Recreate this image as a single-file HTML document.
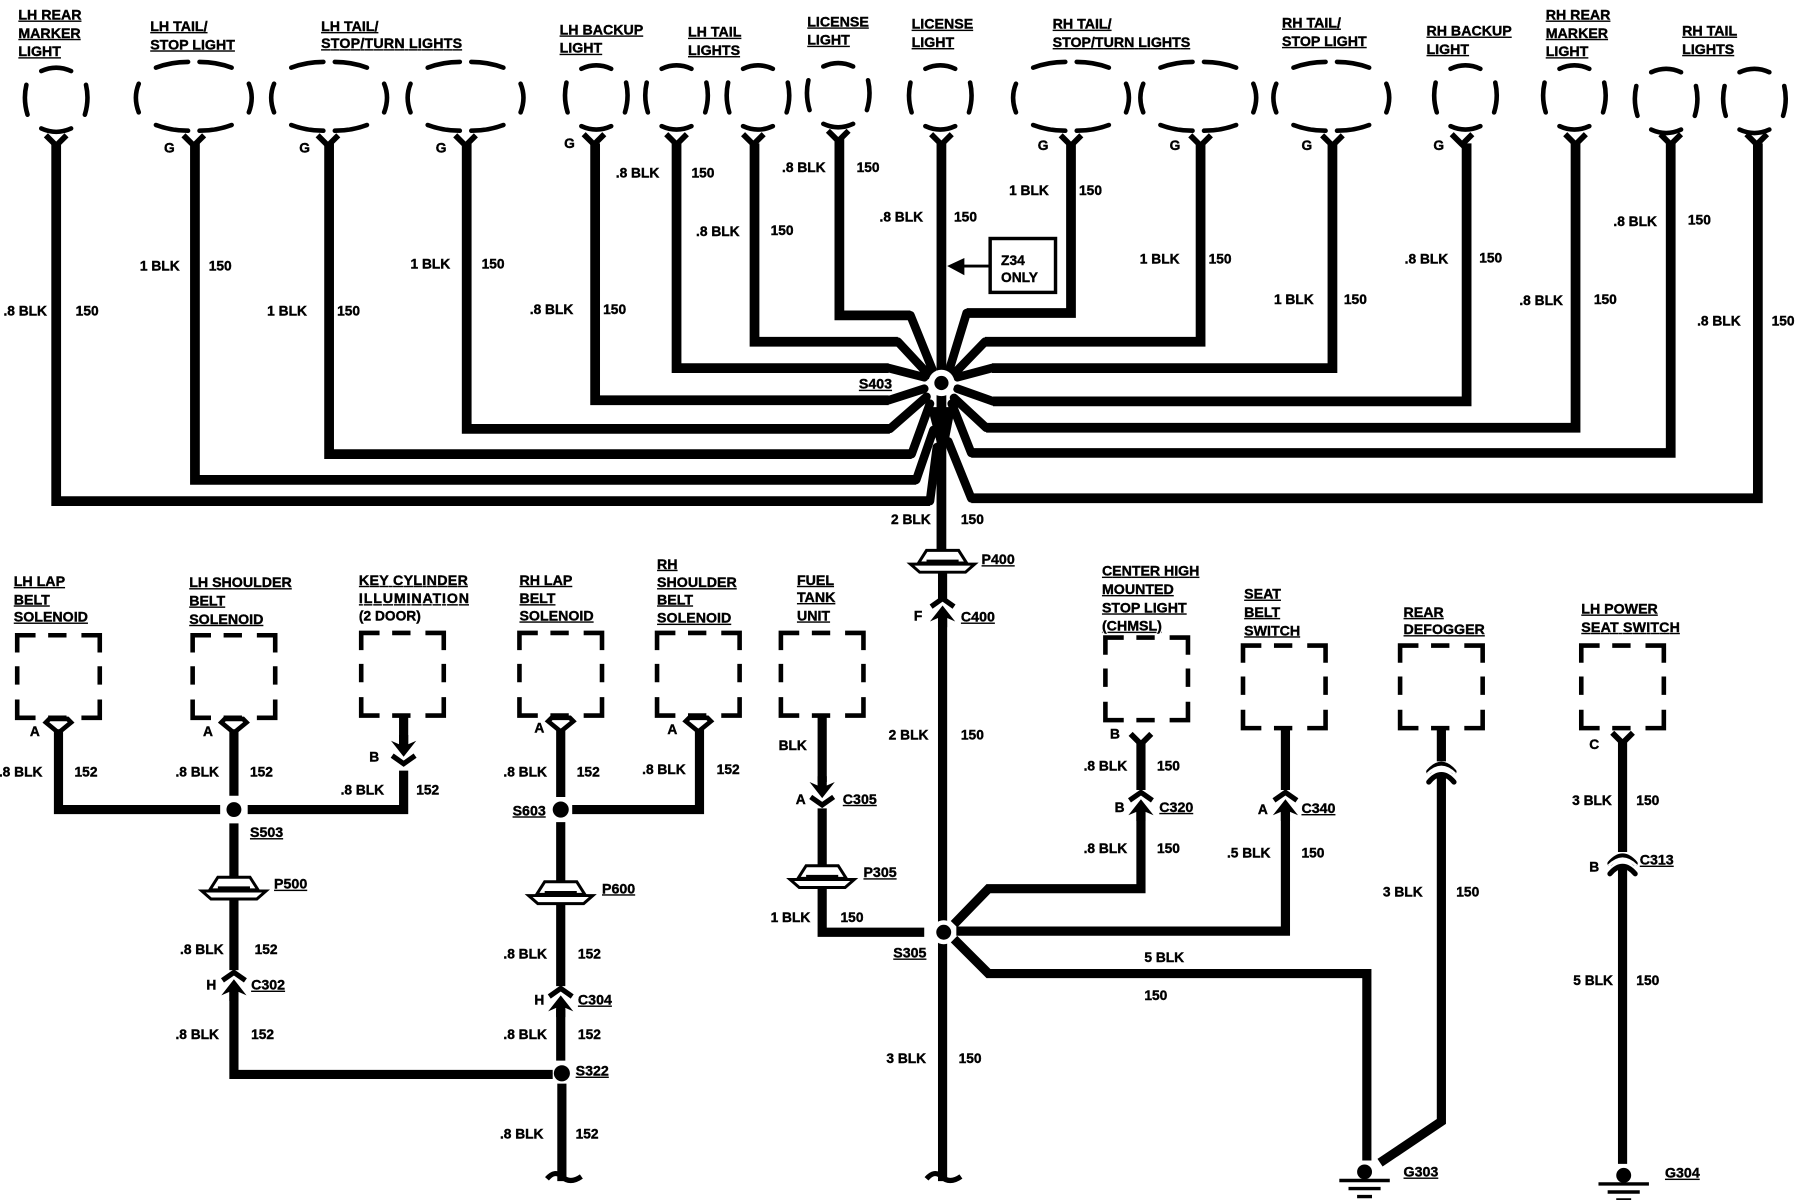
<!DOCTYPE html>
<html><head><meta charset="utf-8"><title>Ground distribution wiring diagram</title>
<style>
html,body{margin:0;padding:0;background:#fff}
svg{display:block}
text{font-family:"Liberation Sans",sans-serif;font-weight:bold;font-size:12px;fill:#000;stroke:#000;stroke-width:.35}
.u text{font-size:12.4px}
.u{text-decoration:underline;text-decoration-thickness:1.5px;text-underline-offset:2px}
.w{fill:none;stroke:#000;stroke-width:8.5;stroke-linejoin:miter}
.sp{fill:none;stroke:#000;stroke-width:7.5;stroke-linecap:round}
.d{fill:none;stroke:#000;stroke-width:4}
</style></head><body>
<svg xmlns="http://www.w3.org/2000/svg" width="1798" height="1200" viewBox="0 0 1568 1046.5">
<defs>
<g id="r" class="d" style="stroke-linecap:round"><path d="M-13,-25Q0,-31 13,-25M-26,-13Q-29,0-25,13M26,-13Q29,0 25,13M-13,25Q0,31 13,25"/></g>
<g id="l" class="d" style="stroke-linecap:round"><path d="M-33,-26Q-20,-31-5,-31M5,-31Q20,-31 33,-26M-33,24Q-20,29-5,29M5,29Q20,29 33,24M-48,-12Q-53,0-48,13M48,-12Q53,0 48,13"/></g>
<path id="s" class="d" d="M2,17V2H18M29,2H45M58,2H74V17M2,29V45M74,29V45M2,58V74H18M58,74H74V58M29,74H45"/>
<path id="y" class="d" style="stroke-width:5" d="M-9,-10L0,-1L9,-10"/>
<path id="t" class="d" d="M-8,-4H8L11,-1L0,8L-11,-1Z"/>
<g id="p"><path fill="#fff" stroke="#000" stroke-width="2.6" d="M-21,0L-14,-11H14L21,0Z"/><path d="M-14,-2H14" stroke="#000" stroke-width="2"/><path fill="#fff" stroke="#000" stroke-width="2.6" d="M-28,1H28L20,8H-20Z"/></g>
<g id="cu"><path class="d" style="stroke-width:4.5" d="M-10,-2L0,-9L10,-2"/><path d="M-11,11L0,-3L11,11L4,8V16H-4V8Z"/></g>
<g id="cd"><path class="d" style="stroke-width:4.5" d="M-10,2L0,9L10,2"/><path d="M-11,-11L0,3L11,-11L4,-8V-16H-4V-8Z"/></g>
<g id="g"><circle r="6.5"/><path d="M-22,7.5H22M-14,14.5H14M-6.5,21.5H6.5" stroke="#000" stroke-width="3"/></g>
<path id="a" class="d" style="stroke-width:4.5;stroke-linecap:round" d="M-11,7Q0,-6 11,7"/>
</defs>

<!-- lamps -->
<use href="#r" x="49" y="87"/><use href="#l" x="169" y="85"/><use href="#l" x="287" y="85"/><use href="#l" x="406" y="85"/>
<use href="#r" x="520" y="85"/><use href="#r" x="590" y="85"/><use href="#r" x="661" y="85"/><use href="#r" x="731" y="83"/>
<use href="#r" x="820" y="85"/><use href="#l" x="934" y="85"/><use href="#l" x="1045" y="85"/><use href="#l" x="1161" y="85"/>
<use href="#r" x="1278" y="85"/><use href="#r" x="1373" y="85"/><use href="#r" x="1453" y="88"/><use href="#r" x="1530" y="88"/>

<!-- forks -->
<use href="#y" x="49" y="128"/><use href="#y" x="169" y="128"/><use href="#y" x="286" y="128"/><use href="#y" x="406" y="128"/>
<use href="#y" x="518" y="127"/><use href="#y" x="590" y="127"/><use href="#y" x="657" y="127"/><use href="#y" x="731" y="124"/>
<use href="#y" x="821" y="127"/><use href="#y" x="934" y="128"/><use href="#y" x="1047" y="128"/><use href="#y" x="1162" y="128"/>
<use href="#y" x="1275" y="127"/><use href="#y" x="1374" y="127"/><use href="#y" x="1457" y="127"/><use href="#y" x="1532" y="127"/>

<!-- S403 harness -->
<g class="w">
<path d="M49,125V437H811"/>
<path d="M170,125V418.5H799"/>
<path d="M287,125V396H795"/>
<path d="M407,125V374H776"/>
<path d="M519,125V349H775"/>
<path d="M590,125V321H775"/>
<path d="M658,125V298H783"/>
<path d="M732,120V275H794"/>
<path d="M934,125V273H843"/>
<path d="M1047,125V298H859"/>
<path d="M1162,125V321H865"/>
<path d="M1279,125V350H866"/>
<path d="M1374,125V373H860"/>
<path d="M1457,125V395H847"/>
<path d="M1533,125V434.5H847"/>
<path d="M821,125V480"/>
</g>
<g class="sp">
<path d="M811,437L817,390M799,418.5L814,375M795,396L811,352M776,374L808,346M775,349L806,339M775,321L806,329M783,298L810,327M794,275L813,322"/>
<path d="M843,273L828,322M859,298L831,327M865,321L835,329M866,350L835,339M860,373L832,347M847,395L830,352M847,434.5L827,385"/>
</g>
<path d="M809,355H833L827,386H817Z"/>
<circle cx="821" cy="334" r="11.5" fill="#fff"/><circle cx="821" cy="334" r="6.2"/>

<!-- Z34 -->
<rect x="863.5" y="208" width="57" height="47" fill="none" stroke="#000" stroke-width="3"/>
<path d="M863,232H838" stroke="#000" stroke-width="2.5"/><path d="M826,232L841,225V240Z"/>

<!-- P400 / main -->
<use href="#p" x="822" y="491"/>
<path class="w" style="stroke-width:8" d="M822,498V522M822,538V1030"/>
<use href="#cu" x="822" y="531"/>
<path class="d" style="stroke-width:4.5" d="M808,1028Q815,1020 821,1026Q828,1033 838,1026"/>

<!-- squares -->
<use href="#s" x="13" y="552"/><use href="#s" x="166" y="552"/><use href="#s" x="313" y="550"/><use href="#s" x="451" y="550"/><use href="#s" x="571" y="550"/><use href="#s" x="679" y="550"/>
<use href="#s" x="962" y="554"/><use href="#s" x="1082" y="561"/><use href="#s" x="1219" y="561"/><use href="#s" x="1377" y="561"/>
<use href="#t" x="51" y="631"/><use href="#t" x="204" y="631"/><use href="#t" x="489" y="630"/><use href="#t" x="609" y="630"/>

<g class="w" style="stroke-width:8">
<path d="M51,636V706H192"/>
<path d="M204,636V694"/>
<path d="M216,706H352V672"/>
<path d="M352,624V650"/>
<path d="M204,718V766"/>
<path d="M204,783V846"/>
<path d="M204,865V937H482"/>
<path d="M489,636V695"/>
<path d="M499,706H610V636"/>
<path d="M489,717V770"/>
<path d="M489,787V860"/>
<path d="M489,880V925"/>
<path d="M490,945V1030"/>
<path d="M717,624V682"/>
<path d="M717,705V760"/>
<path d="M717,772V813H806"/>
<path d="M995,648V689"/>
<path d="M995,708V775H862L832,806"/>
<path d="M1121,634V689"/>
<path d="M1121,708V812H834"/>
<path d="M832,819L862,849H1192V1012"/>
<path d="M1257,634V664"/>
<path d="M1257,675V978L1203.5,1014"/>
<path d="M1415,645V743"/>
<path d="M1415,755V1015"/>
</g>
<path class="d" style="stroke-width:4.5" d="M477,1028Q484,1020 490,1026Q497,1033 507,1026"/>
<circle cx="204" cy="706" r="6.5"/><circle cx="489" cy="706" r="7"/><circle cx="490" cy="936" r="7"/>
<circle cx="823" cy="813" r="10.5" fill="#fff"/><circle cx="823" cy="813" r="6.5"/>
<use href="#y" x="995" y="650"/><use href="#y" x="1415" y="649"/>
<use href="#cd" x="352" y="657"/><use href="#cd" x="717" y="693"/>
<use href="#cu" x="204" y="857"/><use href="#cu" x="489" y="871"/><use href="#cu" x="995" y="700"/><use href="#cu" x="1121" y="700"/>
<use href="#a" x="1257" y="666"/><path d="M1245,675Q1257,663 1269,675" fill="none" stroke="#fff" stroke-width="2.5"/><use href="#a" x="1257" y="675"/>
<use href="#a" x="1415" y="746"/><path d="M1403,755Q1415,743 1427,755" fill="none" stroke="#fff" stroke-width="2.5"/><use href="#a" x="1415" y="755"/>
<use href="#p" x="204" y="776"/><use href="#p" x="489" y="780"/><use href="#p" x="717" y="766"/>
<use href="#g" x="1190" y="1022"/><use href="#g" x="1416" y="1025"/>

<!-- headers -->
<g class="u">
<text x="16" y="17">LH REAR</text><text x="16" y="33">MARKER</text><text x="16" y="49">LIGHT</text>
<text x="131" y="27">LH TAIL/</text><text x="131" y="43">STOP LIGHT</text>
<text x="280" y="27">LH TAIL/</text><text x="280" y="42" textLength="123">STOP/TURN LIGHTS</text>
<text x="488" y="30">LH BACKUP</text><text x="488" y="46">LIGHT</text>
<text x="600" y="32">LH TAIL</text><text x="600" y="48">LIGHTS</text>
<text x="704" y="23">LICENSE</text><text x="704" y="39">LIGHT</text>
<text x="795" y="25">LICENSE</text><text x="795" y="41">LIGHT</text>
<text x="918" y="25">RH TAIL/</text><text x="918" y="41" textLength="120">STOP/TURN LIGHTS</text>
<text x="1118" y="24">RH TAIL/</text><text x="1118" y="40">STOP LIGHT</text>
<text x="1244" y="31">RH BACKUP</text><text x="1244" y="47">LIGHT</text>
<text x="1348" y="17">RH REAR</text><text x="1348" y="33">MARKER</text><text x="1348" y="49">LIGHT</text>
<text x="1467" y="31">RH TAIL</text><text x="1467" y="47">LIGHTS</text>

<text x="12" y="511">LH LAP</text><text x="12" y="527">BELT</text><text x="12" y="542">SOLENOID</text>
<text x="165" y="512">LH SHOULDER</text><text x="165" y="528">BELT</text><text x="165" y="544">SOLENOID</text>
<text x="313" y="510" textLength="95">KEY CYLINDER</text><text x="313" y="526" textLength="96">ILLUMINATION</text>
<text x="453" y="510">RH LAP</text><text x="453" y="526">BELT</text><text x="453" y="541">SOLENOID</text>
<text x="573" y="496">RH</text><text x="573" y="512">SHOULDER</text><text x="573" y="527">BELT</text><text x="573" y="543">SOLENOID</text>
<text x="695" y="510">FUEL</text><text x="695" y="525">TANK</text><text x="695" y="541">UNIT</text>
<text x="961" y="502" textLength="85">CENTER HIGH</text><text x="961" y="518">MOUNTED</text><text x="961" y="534">STOP LIGHT</text><text x="961" y="550">(CHMSL)</text>
<text x="1085" y="522">SEAT</text><text x="1085" y="538">BELT</text><text x="1085" y="554">SWITCH</text>
<text x="1224" y="538">REAR</text><text x="1224" y="553">DEFOGGER</text>
<text x="1379" y="535">LH POWER</text><text x="1379" y="551" textLength="86">SEAT SWITCH</text>

<text x="749" y="339">S403</text><text x="856" y="492">P400</text><text x="838" y="542">C400</text>
<text x="218" y="730">S503</text><text x="239" y="775">P500</text><text x="219" y="863">C302</text>
<text x="447" y="711">S603</text><text x="525" y="779">P600</text><text x="504" y="876">C304</text><text x="502" y="938">S322</text>
<text x="735" y="701">C305</text><text x="753" y="765">P305</text><text x="779" y="835">S305</text>
<text x="1011" y="708">C320</text><text x="1135" y="709">C340</text><text x="1430" y="754">C313</text>
<text x="1224" y="1026">G303</text><text x="1452" y="1027">G304</text>
</g>
<text x="313" y="541">(2 DOOR)</text>

<!-- G / pin letters -->
<text x="143" y="133">G</text><text x="261" y="133">G</text><text x="380" y="133">G</text><text x="492" y="129">G</text>
<text x="905" y="131">G</text><text x="1020" y="131">G</text><text x="1135" y="131">G</text><text x="1250" y="131">G</text>
<text x="26" y="642">A</text><text x="177" y="642">A</text><text x="322" y="664">B</text><text x="466" y="639">A</text><text x="582" y="640">A</text>
<text x="797" y="541">F</text><text x="968" y="644">B</text><text x="972" y="708">B</text><text x="1097" y="710">A</text>
<text x="694" y="701">A</text><text x="180" y="863">H</text><text x="466" y="876">H</text><text x="1386" y="760">B</text><text x="1386" y="653">C</text>

<!-- wire labels top -->
<text x="3" y="275">.8 BLK</text><text x="66" y="275">150</text>
<text x="122" y="236">1 BLK</text><text x="182" y="236">150</text>
<text x="233" y="275">1 BLK</text><text x="294" y="275">150</text>
<text x="358" y="234">1 BLK</text><text x="420" y="234">150</text>
<text x="462" y="274">.8 BLK</text><text x="526" y="274">150</text>
<text x="537" y="155">.8 BLK</text><text x="603" y="155">150</text>
<text x="607" y="206">.8 BLK</text><text x="672" y="205">150</text>
<text x="682" y="150">.8 BLK</text><text x="747" y="150">150</text>
<text x="767" y="193">.8 BLK</text><text x="832" y="193">150</text>
<text x="880" y="170">1 BLK</text><text x="941" y="170">150</text>
<text x="994" y="230">1 BLK</text><text x="1054" y="230">150</text>
<text x="1111" y="265">1 BLK</text><text x="1172" y="265">150</text>
<text x="1225" y="230">.8 BLK</text><text x="1290" y="229">150</text>
<text x="1325" y="266">.8 BLK</text><text x="1390" y="265">150</text>
<text x="1407" y="197">.8 BLK</text><text x="1472" y="196">150</text>
<text x="1480" y="284">.8 BLK</text><text x="1545" y="284">150</text>
<text x="873" y="231">Z34</text><text x="873" y="246">ONLY</text>
<text x="777" y="457">2 BLK</text><text x="838" y="457">150</text>
<text x="775" y="645">2 BLK</text><text x="838" y="645">150</text>

<!-- wire labels bottom -->
<text x="-1" y="677">.8 BLK</text><text x="65" y="677">152</text>
<text x="153" y="677">.8 BLK</text><text x="218" y="677">152</text>
<text x="297" y="693">.8 BLK</text><text x="363" y="693">152</text>
<text x="439" y="677">.8 BLK</text><text x="503" y="677">152</text>
<text x="560" y="675">.8 BLK</text><text x="625" y="675">152</text>
<text x="157" y="832">.8 BLK</text><text x="222" y="832">152</text>
<text x="439" y="836">.8 BLK</text><text x="504" y="836">152</text>
<text x="153" y="906">.8 BLK</text><text x="219" y="906">152</text>
<text x="439" y="906">.8 BLK</text><text x="504" y="906">152</text>
<text x="436" y="993">.8 BLK</text><text x="502" y="993">152</text>
<text x="679" y="654">BLK</text>
<text x="672" y="804">1 BLK</text><text x="733" y="804">150</text>
<text x="945" y="672">.8 BLK</text><text x="1009" y="672">150</text>
<text x="945" y="744">.8 BLK</text><text x="1009" y="744">150</text>
<text x="1070" y="748">.5 BLK</text><text x="1135" y="748">150</text>
<text x="998" y="839">5 BLK</text><text x="998" y="872">150</text>
<text x="773" y="927">3 BLK</text><text x="836" y="927">150</text>
<text x="1206" y="782">3 BLK</text><text x="1270" y="782">150</text>
<text x="1371" y="702">3 BLK</text><text x="1427" y="702">150</text>
<text x="1372" y="859">5 BLK</text><text x="1427" y="859">150</text>
</svg>
</body></html>
